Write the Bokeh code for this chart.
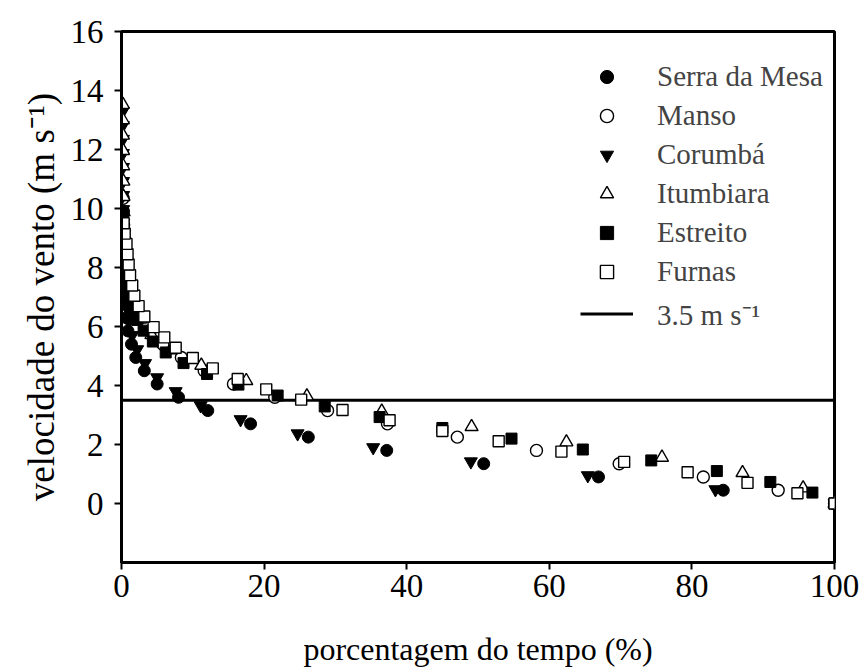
from bokeh.plotting import figure
from bokeh.models import Legend, LegendItem, FixedTicker
from bokeh.embed import file_html
from bokeh.resources import INLINE

# ---- data ----
serra_x = [100, 84.4, 66.9, 50.8, 37.2, 26.2, 18.1, 12.1, 8.0, 5.0, 3.2, 2.0, 1.4, 0.9, 0.65, 0.5, 0.4, 0.34, 0.3, 0.27, 0.24, 0.22, 0.2]
serra_y = [0, 0.45, 0.9, 1.35, 1.8, 2.25, 2.7, 3.15, 3.6, 4.05, 4.5, 4.95, 5.4, 5.85, 6.3, 6.75, 7.2, 7.65, 8.1, 8.55, 9.0, 9.45, 9.9]

manso_x = [100, 92.1, 81.6, 69.8, 58.2, 47.1, 37.3, 28.9, 21.5, 15.7, 11.6, 8.4, 5.8, 4.0, 2.7, 1.8, 1.2, 0.85, 0.6, 0.45, 0.35, 0.3, 0.26, 0.22]
manso_y = [0, 0.45, 0.9, 1.35, 1.8, 2.25, 2.7, 3.15, 3.6, 4.05, 4.5, 4.95, 5.4, 5.85, 6.3, 6.75, 7.2, 7.65, 8.1, 8.55, 9.0, 9.45, 9.9, 10.35]

corumba_x = [100, 83.3, 65.4, 49.0, 35.3, 24.7, 16.7, 11.1, 7.6, 5.0, 3.3, 2.2, 1.5, 1.0, 0.7, 0.5, 0.4, 0.34, 0.3, 0.27, 0.25, 0.24, 0.23, 0.22, 0.21, 0.2, 0.2, 0.19, 0.18]
corumba_y = [0, 0.475, 0.95, 1.42, 1.9, 2.37, 2.85, 3.32, 3.8, 4.27, 4.75, 5.22, 5.7, 6.17, 6.65, 7.12, 7.6, 8.07, 8.55, 9.02, 9.5, 9.97, 10.45, 10.92, 11.4, 11.87, 12.35, 12.82, 13.3]

itumbiara_x = [100, 95.6, 87.1, 75.8, 62.4, 49.1, 36.5, 26.0, 17.5, 11.2, 7.0, 4.2, 2.6, 1.6, 1.0, 0.7, 0.5, 0.4, 0.34, 0.3, 0.28, 0.26, 0.24, 0.22, 0.21, 0.2, 0.2]
itumbiara_y = [0, 0.52, 1.04, 1.56, 2.08, 2.6, 3.12, 3.64, 4.16, 4.68, 5.2, 5.72, 6.24, 6.76, 7.28, 7.8, 8.32, 8.84, 9.36, 9.88, 10.4, 10.92, 11.44, 11.96, 12.48, 13.0, 13.52]

estreito_x = [100, 96.9, 91.0, 83.5, 74.3, 64.7, 54.7, 45.0, 36.2, 28.5, 21.9, 16.4, 12.0, 8.7, 6.2, 4.4, 3.1, 2.2, 1.5, 1.05, 0.75, 0.55, 0.42, 0.35, 0.3, 0.26, 0.23, 0.2]
estreito_y = [0, 0.37, 0.73, 1.1, 1.46, 1.83, 2.2, 2.56, 2.93, 3.29, 3.66, 4.03, 4.39, 4.76, 5.12, 5.49, 5.86, 6.22, 6.59, 6.96, 7.32, 7.69, 8.05, 8.42, 8.78, 9.15, 9.52, 9.88]

furnas_x = [100, 94.8, 87.8, 79.4, 70.5, 61.7, 52.9, 45.0, 37.6, 31.0, 25.2, 20.3, 16.3, 12.8, 10.0, 7.6, 6.0, 4.5, 3.2, 2.4, 1.8, 1.5, 1.2, 1.0, 0.85, 0.7, 0.45, 0.3]
furnas_y = [0, 0.35, 0.7, 1.06, 1.41, 1.76, 2.11, 2.46, 2.82, 3.17, 3.52, 3.87, 4.22, 4.58, 4.93, 5.28, 5.63, 5.98, 6.34, 6.69, 7.04, 7.39, 7.74, 8.1, 8.45, 8.8, 9.15, 9.5]

limit_x = [0, 100]
limit_y = [3.5, 3.5]

x_ticks = [0, 20, 40, 60, 80, 100]
y_ticks = [0, 2, 4, 6, 8, 10, 12, 14, 16]

names = ["Serra da Mesa", "Manso", "Corumbá", "Itumbiara", "Estreito", "Furnas"]
limit_label = "3.5 m s\u207b\u00b9"

FONT = "'Liberation Serif', 'Times New Roman', serif"

p = figure(width=860, height=672, x_range=(0, 100), y_range=(-2, 16),
           output_backend="svg", toolbar_location=None,
           min_border_left=121, min_border_right=26,
           min_border_top=31, min_border_bottom=110)
p.grid.visible = False
p.outline_line_color = "black"
p.outline_line_width = 3
p.background_fill_color = "white"
p.border_fill_color = "white"

line_r = p.line(limit_x, limit_y, line_color="black", line_width=3)

r_serra = p.scatter(serra_x, serra_y, marker="circle", size=12,
                    fill_color="black", line_color="black")
r_manso = p.scatter(manso_x, manso_y, marker="circle", size=12,
                    fill_color="white", line_color="black", line_width=1.4)
r_cor = p.scatter(corumba_x, corumba_y, marker="inverted_triangle", size=13,
                  fill_color="black", line_color="black")
r_itu = p.scatter(itumbiara_x, itumbiara_y, marker="triangle", size=13,
                  fill_color="white", line_color="black", line_width=1.4)
r_est = p.scatter(estreito_x, estreito_y, marker="square", size=11,
                  fill_color="black", line_color="black")
r_fur = p.scatter(furnas_x, furnas_y, marker="square", size=11,
                  fill_color="white", line_color="black", line_width=1.4)

items = [LegendItem(label=n, renderers=[r]) for n, r in
         zip(names, [r_serra, r_manso, r_cor, r_itu, r_est, r_fur])]
items.append(LegendItem(label=limit_label, renderers=[line_r]))

legend = Legend(items=items, location=(459, 229),
                label_text_font=FONT, label_text_font_size="29px",
                label_height=33, glyph_height=33, glyph_width=53,
                spacing=6, padding=0, margin=0, label_standoff=24,
                border_line_color=None, background_fill_alpha=0)
p.add_layout(legend)

for ax in (p.xaxis[0], p.yaxis[0]):
    ax.axis_line_width = 3
    ax.axis_line_color = "black"
    ax.major_tick_line_width = 2
    ax.major_tick_in = 0
    ax.major_tick_out = 7
    ax.minor_tick_line_color = None
    ax.major_label_text_font = FONT
    ax.major_label_text_font_size = "33px"
    ax.major_label_text_color = "black"
    ax.axis_label_text_font = FONT
    ax.axis_label_text_font_style = "normal"
    ax.axis_label_text_color = "black"

p.xaxis[0].ticker = FixedTicker(ticks=x_ticks)
p.yaxis[0].ticker = FixedTicker(ticks=y_ticks)
p.xaxis[0].axis_label = "porcentagem do tempo (%)"
p.yaxis[0].axis_label = "velocidade do vento (m s\u207b\u00b9)"
p.xaxis[0].axis_label_text_font_size = "32px"
p.yaxis[0].axis_label_text_font_size = "37px"
p.xaxis[0].major_label_standoff = 5
p.xaxis[0].axis_label_standoff = 31
p.yaxis[0].major_label_standoff = 11
p.yaxis[0].axis_label_standoff = 6

open("out.html", "w").write(file_html(p, INLINE))
